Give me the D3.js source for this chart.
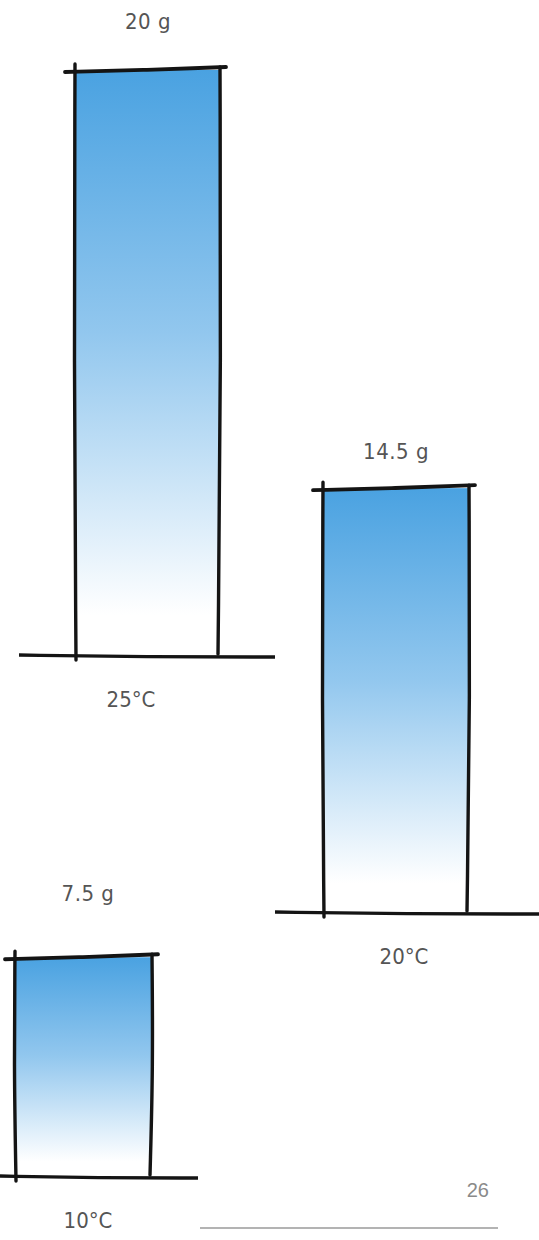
<!DOCTYPE html>
<html>
<head>
<meta charset="utf-8">
<script src="https://cdn.jsdelivr.net/npm/d3@7/dist/d3.min.js"></script>
<style>
  html, body { margin: 0; padding: 0; background: #fff; }
  svg { display: block; }
</style>
</head>
<body>
<svg id="chart" width="539" height="1240"></svg>
<script>
// ---- data ----
const categories = ["25°C", "20°C", "10°C"];
const values = [20, 14.5, 7.5];
const valueLabels = ["20 g", "14.5 g", "7.5 g"];
const pageNumber = "26";

// ---- layout (positions of each staggered panel) ----
const panelLeft = [75, 323, 15];
const panelWidth = [145, 146, 137];
const panelBase = [656, 913, 1177];
const axisFrom = [19, 275, 0];
const axisTo = [275, 539, 198];
const valueLabelX = [148, 396, 88];
const valueLabelY = [29, 459, 901];
const catLabelX = [131, 404, 88];

const W = 539, H = 1240;
const svg = d3.select("#chart");

const y = d3.scaleLinear().domain([0, 20]).range([0, 586]);

const defs = svg.append("defs");
const grad = defs.append("linearGradient")
  .attr("id", "blueGrad").attr("x1", 0).attr("y1", 0).attr("x2", 0).attr("y2", 1);
grad.append("stop").attr("offset", 0).attr("stop-color", "#4aa2e1");
grad.append("stop").attr("offset", 0.45).attr("stop-color", "#92c7ee");
grad.append("stop").attr("offset", 0.93).attr("stop-color", "#ffffff");

const data = categories.map((c, i) => ({
  cat: c, value: values[i], label: valueLabels[i],
  x0: panelLeft[i], w: panelWidth[i], base: panelBase[i],
  a0: axisFrom[i], a1: axisTo[i],
  lx: valueLabelX[i], ly: valueLabelY[i], cx: catLabelX[i]
}));

const ink = "#141414";
const g = svg.selectAll("g.panel").data(data).enter().append("g").attr("class", "panel");

// filled bar
g.append("rect")
  .attr("x", d => d.x0)
  .attr("y", d => d.base - y(d.value))
  .attr("width", d => d.w)
  .attr("height", d => y(d.value))
  .attr("fill", "url(#blueGrad)");

// sketchy outline: left, right, top lines
const line = d3.line().curve(d3.curveBasis);
g.append("path")
  .attr("d", d => {
    const top = d.base - y(d.value);
    return line([[d.x0 + 1, d.base + 4], [d.x0 - 1, (top + d.base) / 2], [d.x0, top - 6]]);
  })
  .attr("fill", "none").attr("stroke", ink).attr("stroke-width", 3.4).attr("stroke-linecap", "round");
g.append("path")
  .attr("d", d => {
    const top = d.base - y(d.value);
    return line([[d.x0 + d.w, top - 3], [d.x0 + d.w + 1, (top + d.base) / 2], [d.x0 + d.w - 2, d.base - 2]]);
  })
  .attr("fill", "none").attr("stroke", ink).attr("stroke-width", 3.4).attr("stroke-linecap", "round");
g.append("path")
  .attr("d", d => {
    const top = d.base - y(d.value);
    return line([[d.x0 - 10, top + 2], [d.x0 + d.w / 2, top], [d.x0 + d.w + 6, top - 3]]);
  })
  .attr("fill", "none").attr("stroke", ink).attr("stroke-width", 3.8).attr("stroke-linecap", "round");

// baseline
g.append("path")
  .attr("d", d => line([[d.a0, d.base - 1], [(d.a0 + d.a1) / 2, d.base + 1], [d.a1, d.base + 1]]))
  .attr("fill", "none").attr("stroke", ink).attr("stroke-width", 3.4).attr("stroke-linecap", "butt");

// labels
const fontFam = "'Liberation Sans Narrow', 'DejaVu Sans Condensed', 'Roboto', sans-serif";
g.append("text")
  .attr("x", d => d.lx)
  .attr("y", d => d.ly)
  .attr("text-anchor", "middle")
  .attr("font-family", fontFam)
  .attr("font-size", 22)
  .attr("letter-spacing", 0.5)
  .attr("fill", "#555")
  .text(d => d.label);

g.append("text")
  .attr("x", d => d.cx)
  .attr("y", d => d.base + 51)
  .attr("text-anchor", "middle")
  .attr("font-family", fontFam)
  .attr("font-size", 22)
  .attr("fill", "#555")
  .text(d => d.cat);

// page number and rule
svg.append("text")
  .attr("x", 489).attr("y", 1197)
  .attr("text-anchor", "end")
  .attr("font-family", "'Liberation Sans', Arial, sans-serif")
  .attr("font-size", 20)
  .attr("fill", "#8a8a8a")
  .text(pageNumber);

svg.append("line")
  .attr("x1", 200).attr("x2", 498).attr("y1", 1228).attr("y2", 1228)
  .attr("stroke", "#9a9a9a").attr("stroke-width", 1.5);
</script>
</body>
</html>
